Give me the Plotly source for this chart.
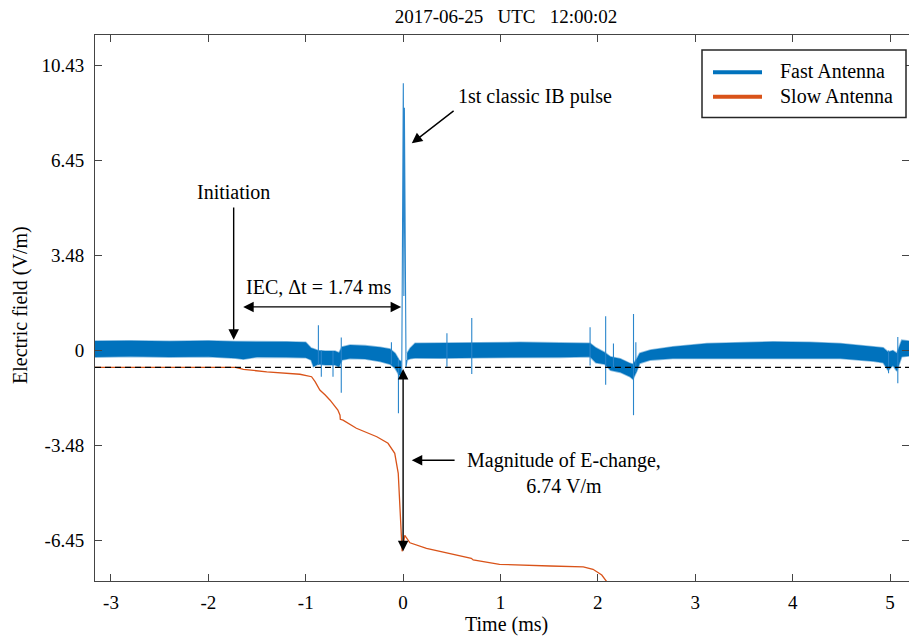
import plotly.graph_objects as go

# ---------------- data (time in ms, field in V/m) ----------------
# Slow antenna: integrated field change
slow_t = [-3.167, -1.72, -1.64, -1.40, -1.06, -0.94, -0.904, -0.855, -0.80, -0.75, -0.67,
          -0.648, -0.645, -0.617, -0.48, -0.27, -0.155, -0.086, -0.05, -0.034, -0.024,
          -0.01, 0.017, 0.07, 0.24, 0.485, 0.70, 0.72, 0.99, 1.51, 1.85, 1.95, 2.04, 2.09]
slow_v = [-0.62, -0.62, -0.69, -0.78, -0.87, -0.96, -1.14, -1.45, -1.63, -1.82, -2.18,
          -2.37, -2.52, -2.55, -2.85, -3.16, -3.40, -3.77, -4.50, -5.73, -6.70,
          -7.36, -6.78, -7.05, -7.25, -7.44, -7.62, -7.68, -7.84, -7.90, -7.93, -8.02, -8.23, -8.47]

# Fast antenna: noise band (upper / lower envelope)
band_t = [-3.164, -2.8, -2.4, -2.0, -1.72, -1.64, -1.5, -1.2, -1.0,
          -0.945, -0.921, -0.873, -0.80, -0.70, -0.658, -0.627, -0.545, -0.39, -0.236,
          -0.134, -0.082, -0.041, -0.02,
          0.041, 0.072, 0.123, 0.38, 0.79, 1.20, 1.61, 1.92,
          1.98, 2.07, 2.13, 2.23, 2.33, 2.36, 2.40, 2.43, 2.54, 2.77,
          3.12, 3.46, 3.80, 4.18, 4.49, 4.83, 4.93, 4.98, 5.03, 5.07, 5.12, 5.195]
band_hi = [0.35, 0.36, 0.34, 0.36, 0.33, 0.33, 0.33, 0.32, 0.30,
           0.09, 0.07, 0.0, -0.02, -0.02, -0.08, 0.13, 0.20, 0.18, 0.12,
           0.06, -0.10, -0.35, -0.40,
           -0.10, 0.08, 0.27, 0.28, 0.29, 0.30, 0.28, 0.27,
           0.10, -0.07, -0.23, -0.30, -0.47, -0.50, -0.30, -0.10, 0.02, 0.14,
           0.26, 0.29, 0.32, 0.30, 0.26, 0.14, 0.10, -0.05, 0.0, -0.10, 0.38, 0.35]
band_lo = [-0.24, -0.22, -0.24, -0.23, -0.28, -0.32, -0.24, -0.25, -0.26,
           -0.35, -0.59, -0.50, -0.53, -0.53, -0.60, -0.35, -0.29, -0.31, -0.40,
           -0.50, -0.65, -0.90, -0.90,
           -0.35, -0.30, -0.27, -0.28, -0.26, -0.25, -0.25, -0.23,
           -0.45, -0.50, -0.72, -0.80, -0.96, -1.05, -0.75, -0.47, -0.35, -0.29,
           -0.29, -0.28, -0.29, -0.29, -0.29, -0.39, -0.45, -0.72, -0.55, -0.75, -0.23, -0.20]

# Fast antenna: isolated pulses (time, max, min)
spike_t = [-0.87, -0.84, -0.72, -0.635, -0.12, -0.048, 0.45, 0.705, 1.92, 2.08, 2.16, 2.366, 2.39, 4.985, 5.08]
spike_hi = [0.93, 0.0, -0.02, 0.48, 0.30, -0.30, 0.63, 1.19, 0.85, 1.26, 0.26, 1.34, 0.30, 0.0, 0.50]
spike_lo = [-0.53, -0.96, -0.96, -1.55, -0.50, -2.30, -0.59, -0.86, -0.55, -1.25, -0.60, -2.37, -0.80, -0.83, -1.20]

# Fast antenna: first classic IB pulse waveform
pulse_t = [-0.02, -0.014, 0.002, 0.008, 0.013, 0.03, 0.041]
pulse_v = [-0.90, -0.85, 9.80, 2.00, 8.90, -0.60, -0.35]

# Axis ticks
x_tick_vals = [-3, -2, -1, 0, 1, 2, 3, 4, 5]
x_tick_text = ["-3", "-2", "-1", "0", "1", "2", "3", "4", "5"]
y_tick_vals = [-6.96, -3.48, 0, 3.48, 6.96, 10.44]
y_tick_text = ["-6.45", "-3.48", "0", "3.48", "6.45", "10.43"]

# Event markers
init_t = -1.74          # initiation time
iec_dt = 1.74           # initial E-change duration (ms)
e_change = 6.74         # magnitude of E-change (V/m)
baseline = slow_v[0]    # pre-flash slow-antenna level

legend_names = ["Fast Antenna", "Slow Antenna"]
BLUE = "#0072BD"
ORANGE = "#D95319"
FONT = "Liberation Serif"

# ---------------- layout geometry ----------------
W, H = 909, 638
ML, MR, MT, MB = 95, 0, 35, 57
PW, PH = W - ML - MR, H - MT - MB


def px_x(p):
    return (p - ML) / PW


def px_y(p):
    return (H - MB - p) / PH


# ---------------- traces ----------------
fig = go.Figure()

# noise band, split around the pulse into two closed polygons
poly_x, poly_y = [], []
for keep in (lambda t: t < 0, lambda t: t > 0):
    idx = [i for i, t in enumerate(band_t) if keep(t)]
    xs = [band_t[i] for i in idx]
    if poly_x:
        poly_x.append(None)
        poly_y.append(None)
    poly_x += xs + xs[::-1]
    poly_y += [band_hi[i] for i in idx] + [band_lo[i] for i in idx][::-1]

fig.add_trace(go.Scatter(x=poly_x, y=poly_y, mode="lines", fill="toself",
                         fillcolor=BLUE, line=dict(color="rgba(0,114,189,0.45)", width=1.6),
                         showlegend=False, hoverinfo="skip"))

sx, sy = [], []
for t, hi, lo in zip(spike_t, spike_hi, spike_lo):
    sx += [t, t, None]
    sy += [lo, hi, None]
fig.add_trace(go.Scatter(x=sx, y=sy, mode="lines",
                         line=dict(color="#2a86cc", width=1.1),
                         showlegend=False, hoverinfo="skip"))

fig.add_trace(go.Scatter(x=pulse_t, y=pulse_v, mode="lines",
                         line=dict(color="#2a86cc", width=1.1),
                         showlegend=False, hoverinfo="skip"))

fig.add_trace(go.Scatter(x=slow_t, y=slow_v, mode="lines",
                         line=dict(color=ORANGE, width=1.3),
                         showlegend=False, hoverinfo="skip"))

# ---------------- reference line ----------------
fig.add_shape(type="line", xref="paper", yref="y", x0=0, x1=1, y0=baseline, y1=baseline,
              line=dict(color="black", width=1.2, dash="6px,4px"), layer="above")

# ---------------- annotations ----------------
txt_font = dict(family=FONT, size=20, color="black")
arrow_style = dict(arrowcolor="black", arrowwidth=1.4, arrowhead=2, arrowsize=1.5,
                   axref="x", ayref="y", xref="x", yref="y", text="", showarrow=True)

# initiation
fig.add_annotation(x=init_t, y=0.4, ax=init_t, ay=5.30, **arrow_style)
fig.add_annotation(x=init_t, y=5.81, text="Initiation", showarrow=False, font=txt_font,
                   xanchor="center", yanchor="middle")

# IEC duration (double arrow)
fig.add_annotation(x=init_t + iec_dt, y=1.6, ax=init_t, ay=1.6, arrowside="end+start",
                   startarrowhead=2, startarrowsize=1.5, standoff=2, startstandoff=8,
                   **arrow_style)
fig.add_annotation(x=-0.873, y=2.33, text=f"IEC, \u0394t = {iec_dt} ms", showarrow=False,
                   font=txt_font, xanchor="center", yanchor="middle")

# first classic IB pulse
fig.add_annotation(x=0.089, y=7.6, ax=0.534, ay=8.83, **arrow_style)
fig.add_annotation(x=1.356, y=9.30, text="1st classic IB pulse", showarrow=False,
                   font=txt_font, xanchor="center", yanchor="middle")

# magnitude of E-change (double arrow) and pointer
fig.add_annotation(x=0.0, y=baseline - e_change, ax=0.0, ay=baseline, arrowside="end+start",
                   startarrowhead=2, startarrowsize=1.5, **arrow_style)
fig.add_annotation(x=0.089, y=-4.02, ax=0.544, ay=-4.02, **arrow_style)
fig.add_annotation(x=1.654, y=-4.49, text=f"Magnitude of E-change,<br>{e_change} V/m",
                   showarrow=False, font=txt_font, xanchor="center", yanchor="middle",
                   align="center")

# axis titles
fig.add_annotation(xref="paper", yref="paper", x=px_x(506), y=px_y(624), text="Time (ms)",
                   showarrow=False, font=txt_font, xanchor="center", yanchor="middle")
fig.add_annotation(xref="paper", yref="paper", x=px_x(20), y=px_y(305),
                   text="Electric field (V/m)", textangle=-90, showarrow=False,
                   font=txt_font, xanchor="center", yanchor="middle")

# legend box
fig.add_shape(type="rect", xref="paper", yref="paper", x0=px_x(702), x1=px_x(906),
              y0=px_y(50), y1=px_y(117.5), line=dict(color="#262626", width=1.5),
              fillcolor="white", layer="above")
for name, color, ypx in zip(legend_names, [BLUE, ORANGE], [72.3, 96.7]):
    fig.add_shape(type="line", xref="paper", yref="paper", x0=px_x(713), x1=px_x(762),
                  y0=px_y(ypx), y1=px_y(ypx), line=dict(color=color, width=4), layer="above")
    fig.add_annotation(xref="paper", yref="paper", x=px_x(778), y=px_y(ypx - 1), text=name,
                       showarrow=False, font=txt_font, xanchor="left", yanchor="middle")

# ---------------- axes & layout ----------------
axis_common = dict(showgrid=False, zeroline=False, showline=True, linecolor="#444444",
                   linewidth=1, ticks="inside", ticklen=7, tickcolor="#444444",
                   tickwidth=1, mirror="ticks",
                   tickfont=dict(family=FONT, size=19, color="black"))

fig.update_xaxes(range=[-3.164, 5.195], tickvals=x_tick_vals, ticktext=x_tick_text,
                 ticklabelstandoff=4, **axis_common)
fig.update_yaxes(range=[-8.45, 11.57], tickvals=y_tick_vals, ticktext=y_tick_text,
                 ticklabelstandoff=6, **axis_common)

fig.update_layout(
    width=W, height=H,
    margin=dict(l=ML, r=MR, t=MT, b=MB, autoexpand=False),
    paper_bgcolor="white", plot_bgcolor="white",
    showlegend=False,
    title=dict(text="2017-06-25\u00a0\u00a0\u00a0UTC\u00a0\u00a0\u00a012:00:02",
               x=px_x(506), xref="paper", xanchor="center",
               y=1 - 16 / H, yref="container", yanchor="middle",
               font=dict(family=FONT, size=19, color="black")),
)

fig.write_html("out.html")
